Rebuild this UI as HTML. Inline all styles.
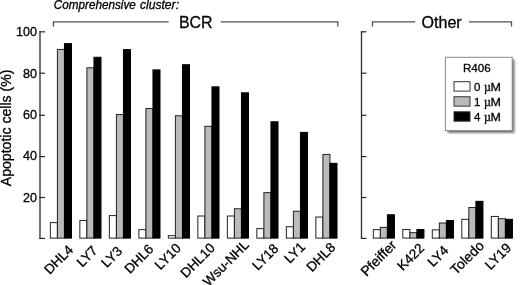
<!DOCTYPE html>
<html><head><meta charset="utf-8"><style>
html,body{margin:0;padding:0;background:#fff;overflow:hidden;width:520px;height:285px;}
svg{display:block;will-change:transform;}
text{font-family:"Liberation Sans", sans-serif;fill:#000;stroke:#000;stroke-width:0.3px;}
</style></head><body>
<svg width="520" height="285" viewBox="0 0 520 285">
<line x1="40.00" y1="31.20" x2="40.00" y2="239.00" stroke="#2a2a2a" stroke-width="1.3"/>
<line x1="39.40" y1="31.80" x2="45.00" y2="31.80" stroke="#2a2a2a" stroke-width="1.2"/>
<line x1="39.40" y1="73.20" x2="45.00" y2="73.20" stroke="#2a2a2a" stroke-width="1.2"/>
<line x1="39.40" y1="115.30" x2="45.00" y2="115.30" stroke="#2a2a2a" stroke-width="1.2"/>
<line x1="39.40" y1="156.60" x2="45.00" y2="156.60" stroke="#2a2a2a" stroke-width="1.2"/>
<line x1="39.40" y1="197.50" x2="45.00" y2="197.50" stroke="#2a2a2a" stroke-width="1.2"/>
<line x1="39.40" y1="238.40" x2="45.00" y2="238.40" stroke="#2a2a2a" stroke-width="1.2"/>
<line x1="361.50" y1="31.20" x2="361.50" y2="239.00" stroke="#2a2a2a" stroke-width="1.3"/>
<line x1="360.90" y1="31.80" x2="366.50" y2="31.80" stroke="#2a2a2a" stroke-width="1.2"/>
<line x1="360.90" y1="73.20" x2="366.50" y2="73.20" stroke="#2a2a2a" stroke-width="1.2"/>
<line x1="360.90" y1="115.30" x2="366.50" y2="115.30" stroke="#2a2a2a" stroke-width="1.2"/>
<line x1="360.90" y1="156.60" x2="366.50" y2="156.60" stroke="#2a2a2a" stroke-width="1.2"/>
<line x1="360.90" y1="197.50" x2="366.50" y2="197.50" stroke="#2a2a2a" stroke-width="1.2"/>
<line x1="360.90" y1="238.40" x2="366.50" y2="238.40" stroke="#2a2a2a" stroke-width="1.2"/>
<text x="37.10" y="35.85" font-size="12.6" text-anchor="end" >100</text>
<text x="37.10" y="78.05" font-size="12.6" text-anchor="end" >80</text>
<text x="37.10" y="119.35" font-size="12.6" text-anchor="end" >60</text>
<text x="37.10" y="160.00" font-size="12.6" text-anchor="end" >40</text>
<text x="37.10" y="202.00" font-size="12.6" text-anchor="end" >20</text>
<rect x="50.35" y="222.63" width="7.05" height="15.47" fill="#ffffff" stroke="#222222" stroke-width="1.0"/>
<rect x="57.40" y="49.43" width="7.05" height="188.67" fill="#bababa" stroke="#222222" stroke-width="1.0"/>
<rect x="64.45" y="43.64" width="7.05" height="194.46" fill="#000000" stroke="#000" stroke-width="1.0"/>
<rect x="79.85" y="220.56" width="7.05" height="17.54" fill="#ffffff" stroke="#222222" stroke-width="1.0"/>
<rect x="86.90" y="67.82" width="7.05" height="170.28" fill="#bababa" stroke="#222222" stroke-width="1.0"/>
<rect x="93.95" y="57.28" width="7.05" height="180.82" fill="#000000" stroke="#000" stroke-width="1.0"/>
<rect x="109.35" y="215.60" width="7.05" height="22.50" fill="#ffffff" stroke="#222222" stroke-width="1.0"/>
<rect x="116.40" y="114.53" width="7.05" height="123.57" fill="#bababa" stroke="#222222" stroke-width="1.0"/>
<rect x="123.45" y="49.63" width="7.05" height="188.47" fill="#000000" stroke="#000" stroke-width="1.0"/>
<rect x="138.85" y="229.65" width="7.05" height="8.45" fill="#ffffff" stroke="#222222" stroke-width="1.0"/>
<rect x="145.90" y="108.54" width="7.05" height="129.56" fill="#bababa" stroke="#222222" stroke-width="1.0"/>
<rect x="152.95" y="69.89" width="7.05" height="168.21" fill="#000000" stroke="#000" stroke-width="1.0"/>
<rect x="168.35" y="235.65" width="7.05" height="2.45" fill="#ffffff" stroke="#222222" stroke-width="1.0"/>
<rect x="175.40" y="115.77" width="7.05" height="122.33" fill="#bababa" stroke="#222222" stroke-width="1.0"/>
<rect x="182.45" y="64.72" width="7.05" height="173.38" fill="#000000" stroke="#000" stroke-width="1.0"/>
<rect x="197.85" y="216.01" width="7.05" height="22.09" fill="#ffffff" stroke="#222222" stroke-width="1.0"/>
<rect x="204.90" y="126.31" width="7.05" height="111.79" fill="#bababa" stroke="#222222" stroke-width="1.0"/>
<rect x="211.95" y="86.84" width="7.05" height="151.26" fill="#000000" stroke="#000" stroke-width="1.0"/>
<rect x="227.35" y="216.01" width="7.05" height="22.09" fill="#ffffff" stroke="#222222" stroke-width="1.0"/>
<rect x="234.40" y="208.78" width="7.05" height="29.32" fill="#bababa" stroke="#222222" stroke-width="1.0"/>
<rect x="241.45" y="92.83" width="7.05" height="145.27" fill="#000000" stroke="#000" stroke-width="1.0"/>
<rect x="256.85" y="228.62" width="7.05" height="9.48" fill="#ffffff" stroke="#222222" stroke-width="1.0"/>
<rect x="263.90" y="192.66" width="7.05" height="45.44" fill="#bababa" stroke="#222222" stroke-width="1.0"/>
<rect x="270.95" y="121.77" width="7.05" height="116.33" fill="#000000" stroke="#000" stroke-width="1.0"/>
<rect x="286.35" y="226.76" width="7.05" height="11.34" fill="#ffffff" stroke="#222222" stroke-width="1.0"/>
<rect x="293.40" y="211.26" width="7.05" height="26.84" fill="#bababa" stroke="#222222" stroke-width="1.0"/>
<rect x="300.45" y="132.41" width="7.05" height="105.69" fill="#000000" stroke="#000" stroke-width="1.0"/>
<rect x="315.85" y="217.05" width="7.05" height="21.05" fill="#ffffff" stroke="#222222" stroke-width="1.0"/>
<rect x="322.90" y="154.42" width="7.05" height="83.68" fill="#bababa" stroke="#222222" stroke-width="1.0"/>
<rect x="329.95" y="163.31" width="7.05" height="74.79" fill="#000000" stroke="#000" stroke-width="1.0"/>
<rect x="373.30" y="229.65" width="7.05" height="8.45" fill="#ffffff" stroke="#222222" stroke-width="1.0"/>
<rect x="380.35" y="227.38" width="7.05" height="10.72" fill="#bababa" stroke="#222222" stroke-width="1.0"/>
<rect x="387.40" y="214.77" width="7.05" height="23.33" fill="#000000" stroke="#000" stroke-width="1.0"/>
<rect x="402.80" y="229.55" width="7.05" height="8.55" fill="#ffffff" stroke="#222222" stroke-width="1.0"/>
<rect x="409.85" y="232.65" width="7.05" height="5.45" fill="#bababa" stroke="#222222" stroke-width="1.0"/>
<rect x="416.90" y="229.55" width="7.05" height="8.55" fill="#000000" stroke="#000" stroke-width="1.0"/>
<rect x="432.30" y="229.86" width="7.05" height="8.24" fill="#ffffff" stroke="#222222" stroke-width="1.0"/>
<rect x="439.35" y="223.04" width="7.05" height="15.06" fill="#bababa" stroke="#222222" stroke-width="1.0"/>
<rect x="446.40" y="220.56" width="7.05" height="17.54" fill="#000000" stroke="#000" stroke-width="1.0"/>
<rect x="461.80" y="219.32" width="7.05" height="18.78" fill="#ffffff" stroke="#222222" stroke-width="1.0"/>
<rect x="468.85" y="207.54" width="7.05" height="30.56" fill="#bababa" stroke="#222222" stroke-width="1.0"/>
<rect x="475.90" y="201.34" width="7.05" height="36.76" fill="#000000" stroke="#000" stroke-width="1.0"/>
<rect x="491.30" y="216.43" width="7.05" height="21.67" fill="#ffffff" stroke="#222222" stroke-width="1.0"/>
<rect x="498.35" y="218.70" width="7.05" height="19.40" fill="#bababa" stroke="#222222" stroke-width="1.0"/>
<rect x="505.40" y="219.32" width="7.05" height="18.78" fill="#000000" stroke="#000" stroke-width="1.0"/>
<text x="61.85" y="262.80" font-size="13.5" text-anchor="middle" transform="rotate(-45 61.85 262.80)">DHL4</text>
<text x="90.30" y="259.50" font-size="13.5" text-anchor="middle" transform="rotate(-45 90.30 259.50)">LY7</text>
<text x="115.00" y="260.20" font-size="13.5" text-anchor="middle" transform="rotate(-45 115.00 260.20)">LY3</text>
<text x="142.20" y="262.10" font-size="13.5" text-anchor="middle" transform="rotate(-45 142.20 262.10)">DHL6</text>
<text x="171.10" y="259.70" font-size="13.5" text-anchor="middle" transform="rotate(-45 171.10 259.70)">LY10</text>
<text x="200.90" y="263.60" font-size="13.5" text-anchor="middle" transform="rotate(-45 200.90 263.60)">DHL10</text>
<text x="229.10" y="266.40" font-size="13.5" text-anchor="middle" transform="rotate(-45 229.10 266.40)">Wsu-NHL</text>
<text x="268.60" y="260.20" font-size="13.5" text-anchor="middle" transform="rotate(-45 268.60 260.20)">LY18</text>
<text x="298.00" y="255.90" font-size="13.5" text-anchor="middle" transform="rotate(-45 298.00 255.90)">LY1</text>
<text x="324.10" y="260.40" font-size="13.5" text-anchor="middle" transform="rotate(-45 324.10 260.40)">DHL8</text>
<text x="381.90" y="261.50" font-size="13.9" text-anchor="middle" transform="rotate(-45 381.90 261.50)">Pfeiffer</text>
<text x="414.00" y="260.20" font-size="13.5" text-anchor="middle" transform="rotate(-45 414.00 260.20)">K422</text>
<text x="441.20" y="259.40" font-size="13.5" text-anchor="middle" transform="rotate(-45 441.20 259.40)">LY4</text>
<text x="470.40" y="261.00" font-size="13.9" text-anchor="middle" transform="rotate(-45 470.40 261.00)">Toledo</text>
<text x="501.30" y="259.60" font-size="13.5" text-anchor="middle" transform="rotate(-45 501.30 259.60)">LY19</text>
<path d="M53.4 26.4 V21.9 H168.7 M220.7 21.9 H337.8 V26.4" fill="none" stroke="#505050" stroke-width="1.3"/>
<path d="M372.5 26.6 V21.9 H415.2 M468.9 21.9 H511.5 V26.6" fill="none" stroke="#505050" stroke-width="1.3"/>
<text x="178.90" y="27.80" font-size="15.8" text-anchor="start" textLength="33.7" lengthAdjust="spacingAndGlyphs">BCR</text>
<text x="421.50" y="27.80" font-size="15.8" text-anchor="start" textLength="40.2" lengthAdjust="spacingAndGlyphs">Other</text>
<text x="53.80" y="9.00" font-size="12" text-anchor="start" font-style="italic" textLength="82.0" lengthAdjust="spacingAndGlyphs">Comprehensive</text>
<text x="140.00" y="9.00" font-size="12" text-anchor="start" font-style="italic" textLength="39.0" lengthAdjust="spacingAndGlyphs">cluster:</text>
<text x="0" y="0" font-size="14.1" text-anchor="middle" transform="translate(11.2 127.9) rotate(-90)">Apoptotic cells (%)</text>
<defs><filter id="sh" x="-20%" y="-20%" width="140%" height="140%"><feGaussianBlur stdDeviation="1.0"/></filter></defs>
<rect x="447.6" y="59.6" width="66.8" height="73.3" fill="#333" opacity="0.7" filter="url(#sh)"/>
<rect x="445.4" y="57.3" width="66.8" height="73.3" fill="#fff" stroke="#8a8a8a" stroke-width="1"/>
<text x="463.00" y="71.60" font-size="11.6" text-anchor="start" >R406</text>
<rect x="454.00" y="81.70" width="16.00" height="9.40" fill="#ffffff" stroke="#333" stroke-width="1"/>
<text x="474.00" y="90.50" font-size="11.5" text-anchor="start" >0</text>
<text x="484.0" y="90.50" font-size="12" style="font-family:'Liberation Serif'">&#181;</text>
<text x="490.40" y="90.50" font-size="11.6" text-anchor="start" textLength="10.4" lengthAdjust="spacingAndGlyphs">M</text>
<rect x="454.00" y="96.75" width="16.00" height="9.40" fill="#bababa" stroke="#333" stroke-width="1"/>
<text x="474.00" y="105.55" font-size="11.5" text-anchor="start" >1</text>
<text x="484.0" y="105.55" font-size="12" style="font-family:'Liberation Serif'">&#181;</text>
<text x="490.40" y="105.55" font-size="11.6" text-anchor="start" textLength="10.4" lengthAdjust="spacingAndGlyphs">M</text>
<rect x="454.00" y="111.80" width="16.00" height="9.40" fill="#000000" stroke="#333" stroke-width="1"/>
<text x="474.00" y="120.60" font-size="11.5" text-anchor="start" >4</text>
<text x="484.0" y="120.60" font-size="12" style="font-family:'Liberation Serif'">&#181;</text>
<text x="490.40" y="120.60" font-size="11.6" text-anchor="start" textLength="10.4" lengthAdjust="spacingAndGlyphs">M</text>
</svg>
</body></html>
